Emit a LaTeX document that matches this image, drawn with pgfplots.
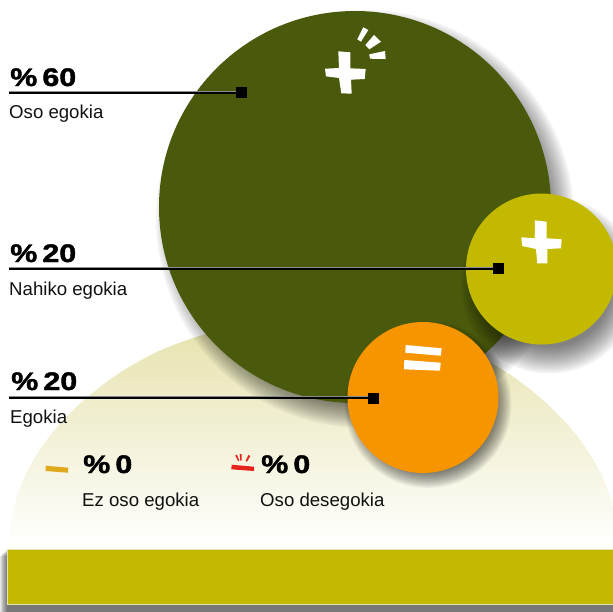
\documentclass[border=0pt]{standalone}
\usepackage{fontspec}
\setmainfont{Liberation Sans}
\newfontfamily\bigf[FakeBold=1.6,FakeStretch=1.2]{Liberation Sans Bold}
\usepackage{pgfplots}
\pgfplotsset{compat=1.18}
\definecolor{cgreen}{HTML}{4A5A0C}
\definecolor{cyel}{HTML}{C3B900}
\definecolor{corg}{HTML}{F69500}
\definecolor{cdome}{HTML}{E6E2AC}
\definecolor{cgold}{HTML}{E0A81C}
\definecolor{cred}{HTML}{E5231B}
\definecolor{ctxt}{HTML}{111111}
% soft shadow: x, y, radius, half width of the blur
\newcommand\softshadow[4]{%
  \pgfplotsinvokeforeach{0,...,13}{%
    \addplot[only marks, mark=*, mark size={(#3+#4-2*#4/13*##1)*1bp},
      mark options={draw opacity=0, line width=0pt, fill=black, fill opacity=0.048}]
      coordinates {(#1,#2)};
  }%
}
\newcommand\bigpct[3]{\node[anchor=base west,inner sep=0,text=black,font=\bigf\fontsize{25.5}{25.5}\selectfont] at (axis cs:#1,#2) {\%\hspace{0.2em}#3};}
\newcommand\smalltxt[3]{\node[anchor=base west,inner sep=0,text=ctxt,font=\fontsize{18.7}{18.7}\selectfont] at (axis cs:#1,#2) {#3};}
\newcommand\leader[2]{%
  \addplot[draw=black!45, line width=0.6bp] coordinates {(9,#2-1.4) (#1,#2-1.4)};
  \addplot[draw=black, line width=2bp] coordinates {(9,#2) (#1,#2)};
  \addplot[only marks, mark=square*, mark size=5.5bp, mark options={draw opacity=0, line width=0pt, fill=black}] coordinates {(#1,#2)};
}
\begin{document}
\begin{tikzpicture}
\begin{axis}[x=1bp, y=-1bp, xmin=0, xmax=613, ymin=0, ymax=612,
  anchor=north west, at={(0,0)}, hide axis, clip=true, clip mode=individual]
% dome
\addplot[draw=none, shade, top color=cdome, bottom color=white, smooth] coordinates {
 (9,547) (13.6,508.5) (27.4,471) (49.8,436) (80.2,403.5) (117.8,374) (161.2,350) (209.4,333) (260.6,322) (313.5,318)
 (366.4,322) (417.6,333) (465.8,350) (509.2,374) (546.8,403.5) (577.2,436) (599.6,471) (613.4,508.5) (618,547)} -- cycle;
% band
\addplot[draw=none, fill=black, fill opacity=0.09] coordinates {(0,556) (613,556) (613,612) (0,612)} -- cycle;
\addplot[draw=none, fill=black, fill opacity=0.09] coordinates {(1,555) (613,555) (613,612) (1,612)} -- cycle;
\addplot[draw=none, fill=black, fill opacity=0.09] coordinates {(2,554) (613,554) (613,612) (2,612)} -- cycle;
\addplot[draw=none, fill=black, fill opacity=0.09] coordinates {(3,553) (613,553) (613,612) (3,612)} -- cycle;
\addplot[draw=none, fill=black, fill opacity=0.09] coordinates {(4,552) (613,552) (613,612) (4,612)} -- cycle;
\addplot[draw=none, fill=black, fill opacity=0.09] coordinates {(5,551) (613,551) (613,612) (5,612)} -- cycle;
\addplot[draw=none, fill=black, fill opacity=0.09] coordinates {(6,550) (613,550) (613,612) (6,612)} -- cycle;
\addplot[draw=none, fill=black, fill opacity=0.09] coordinates {(6.5,550) (613,550) (613,612) (6.5,612)} -- cycle;
\addplot[draw=cdome, line width=0.6bp, fill=cyel] coordinates {(7,549) (615,549) (615,604) (7,604)} -- cycle;
% circles
\softshadow{365}{219}{196}{13}
\addplot[only marks, mark=*, mark size=196bp, mark options={draw opacity=0, line width=0pt, fill=cgreen}] coordinates {(355,207)};
\softshadow{549.5}{285}{75.5}{13}
\addplot[only marks, mark=*, mark size=75.5bp, mark options={draw opacity=0, line width=0pt, fill=cyel}] coordinates {(541.5,269)};
\softshadow{428}{404.5}{75.5}{8}
\addplot[only marks, mark=*, mark size=75.5bp, mark options={draw opacity=0, line width=0pt, fill=corg}] coordinates {(423,397.5)};
% signs
\addplot[draw=none, fill=white] coordinates {(338.3,51.3) (350.3,52.3) (350.3,68.3) (365.7,69) (364.7,79) (351,79.7) (351.7,93.7) (341.3,93.3) (339,78) (326,76.3) (325,68.7) (339,68)} -- cycle;
\addplot[draw=none, fill=white] coordinates {(363.3,27.3) (368.3,30) (361,41.7) (357.3,39.3)} -- cycle;
\addplot[draw=none, fill=white] coordinates {(374,35) (381,41.7) (369.3,49.3) (365.3,45)} -- cycle;
\addplot[draw=none, fill=white] coordinates {(385,51) (385.7,59) (370,58.7) (369.3,54.3)} -- cycle;
\addplot[draw=none, fill=white] coordinates {(535,220.3) (546.7,221.7) (546.7,238.3) (561.7,239.3) (561,248.3) (547.3,249) (547.3,263.3) (537.3,263.3) (536,249) (522.3,246) (521.3,237.3) (534.7,238.3)} -- cycle;
\addplot[draw=none, fill=white] coordinates {(405.7,345) (441.7,348.3) (440.7,355.7) (405.3,352.7)} -- cycle;
\addplot[draw=none, fill=white] coordinates {(404.3,360) (440.7,362.7) (440,370.7) (404,369.3)} -- cycle;
\addplot[draw=none, fill=cgold] coordinates {(45.7,465.7) (68.3,467.7) (68,472.7) (45.7,471)} -- cycle;
\addplot[draw=none, fill=cred] coordinates {(231.7,464.7) (254,466.7) (254,471) (231.3,469.3)} -- cycle;
\addplot[draw=none, fill=cred] coordinates {(235.3,455.3) (237,454.7) (239.3,460.7) (238,461)} -- cycle;
\addplot[draw=none, fill=cred] coordinates {(239.7,454) (241.7,454) (241.7,460.7) (240.3,460.7)} -- cycle;
\addplot[draw=none, fill=cred] coordinates {(248.3,455) (250.3,456) (247,461.7) (245.7,461)} -- cycle;
% leaders
\leader{241}{92.5}
\leader{498.5}{268.5}
\leader{373.5}{398}
% text
\bigpct{10}{86}{60}
\bigpct{10}{262}{20}
\bigpct{11}{390}{20}
\bigpct{83}{473}{0}
\bigpct{261}{473}{0}
\smalltxt{9}{118}{Oso egokia}
\smalltxt{9}{295}{Nahiko egokia}
\smalltxt{10}{423}{Egokia}
\smalltxt{82}{506}{Ez oso egokia}
\smalltxt{260}{506}{Oso desegokia}
\end{axis}
\pgfresetboundingbox
\path[use as bounding box] (0,0) rectangle (613bp,-612bp);
\end{tikzpicture}
\end{document}
